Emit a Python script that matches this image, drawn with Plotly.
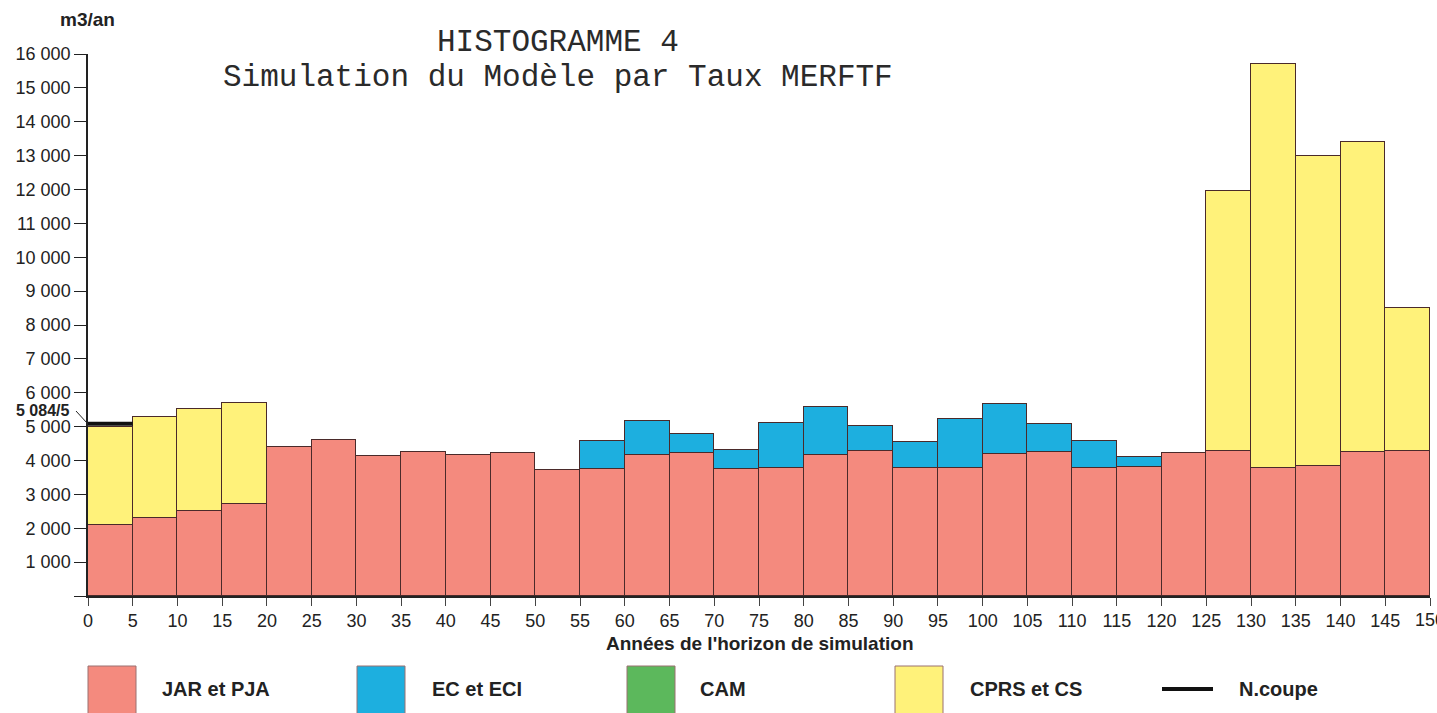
import plotly.graph_objects as go

# Five-year periods of the simulation horizon (start year of each period)
periods = list(range(0, 150, 5))

# Harvest volume per treatment, m3/an
jar_pja = [2100, 2300, 2500, 2710, 4400, 4600, 4130, 4250, 4160, 4220,
           3720, 3750, 4160, 4220, 3750, 3780, 4160, 4280, 3780, 3780,
           4190, 4250, 3780, 3800, 4220, 4280, 3780, 3830, 4250, 4280]
ec_eci = [0, 0, 0, 0, 0, 0, 0, 0, 0, 0,
          0, 820, 1000, 560, 560, 1320, 1420, 740, 760, 1440,
          1470, 820, 790, 300, 0, 0, 0, 0, 0, 0]
cam = [0] * 30
cprs_cs = [2900, 2980, 3020, 2980, 0, 0, 0, 0, 0, 0,
           0, 0, 0, 0, 0, 0, 0, 0, 0, 0,
           0, 0, 0, 0, 0, 7670, 11920, 9170, 9160, 4220]

# Reference harvest level (N.coupe) over the first period
n_coupe_value = 5084
n_coupe_label = "5 084/5"

y_ticks = list(range(0, 17000, 1000))
y_tick_text = ["" if v == 0 else f"{v // 1000} 000" for v in y_ticks]
x_ticks = list(range(0, 155, 5))

legend_items = ["JAR et PJA", "EC et ECI", "CAM", "CPRS et CS"]

COLORS = {
    "JAR et PJA": "#F48A7E",
    "EC et ECI": "#1DAFDF",
    "CAM": "#5CB85C",
    "CPRS et CS": "#FFF27A",
}
EDGE = "#4a2a2a"

W, H = 1437, 713
L, R, T, B = 88, 7, 54, 117
PW, PH = W - L - R, H - T - B


def px_x(px):
    return (px - L) / PW


def px_y(py):
    return (H - B - py) / PH


centers = [p + 2.5 for p in periods]
fig = go.Figure()
for name, vals in [("JAR et PJA", jar_pja), ("EC et ECI", ec_eci),
                   ("CAM", cam), ("CPRS et CS", cprs_cs)]:
    fig.add_trace(go.Bar(
        x=centers, y=vals, width=[5] * len(periods), name=name,
        marker=dict(color=COLORS[name],
                    line=dict(color=EDGE, width=0 if name == "CAM" else 1)),
        showlegend=False,
    ))

fig.add_trace(go.Scatter(
    x=[0, 5], y=[n_coupe_value, n_coupe_value], mode="lines",
    line=dict(color="#111111", width=4), showlegend=False,
))

font_sans = "Liberation Sans, Arial, sans-serif"
annotations = [
    dict(text="HISTOGRAMME 4", x=px_x(558), y=px_y(42)),
    dict(text="Simulation du Modèle par Taux MERFTF", x=px_x(558), y=px_y(78)),
]
for a in annotations:
    a.update(xref="paper", yref="paper", showarrow=False, xanchor="center",
             yanchor="middle", font=dict(family="Liberation Mono, Courier New, monospace",
                                         size=31, color="#2a2a2a"))
annotations += [
    dict(text="<b>m3/an</b>", x=px_x(87), y=px_y(19), xref="paper", yref="paper",
         showarrow=False, xanchor="center", yanchor="middle",
         font=dict(family=font_sans, size=19, color="#222222")),
    dict(text=f"<b>{n_coupe_label}</b>", x=px_x(71), y=px_y(410), xref="paper",
         yref="paper", showarrow=False, xanchor="right", yanchor="middle",
         font=dict(family=font_sans, size=16, color="#222222")),
    dict(text="<b>Années de l'horizon de simulation</b>", x=px_x(760), y=px_y(643),
         xref="paper", yref="paper", showarrow=False, xanchor="center",
         yanchor="middle", font=dict(family=font_sans, size=19, color="#222222")),
    # last tick label, running off the right edge of the page
    dict(text="150", x=150, y=px_y(620), xref="x", yref="paper",
         showarrow=False, xanchor="center", yanchor="middle",
         font=dict(family=font_sans, size=18, color="#222222")),
]

shapes = [
    dict(type="line", xref="paper", yref="paper", x0=px_x(76), y0=px_y(411),
         x1=px_x(87), y1=px_y(423), line=dict(color="#222222", width=1)),
]

# Bottom legend: swatches and labels
swatch_left = [88, 357, 627, 895]
label_left = [160, 430, 698, 968]
for name, sx, lx in zip(legend_items, swatch_left, label_left):
    shapes.append(dict(type="rect", xref="paper", yref="paper",
                       x0=px_x(sx), x1=px_x(sx + 48), y0=px_y(666), y1=px_y(724),
                       fillcolor=COLORS[name], line=dict(color="#9a7070", width=1)))
    annotations.append(dict(text=f"<b>{name}</b>", x=px_x(lx), y=px_y(689),
                            xref="paper", yref="paper", showarrow=False,
                            xanchor="left", yanchor="middle",
                            font=dict(family=font_sans, size=20, color="#222222")))
shapes.append(dict(type="line", xref="paper", yref="paper", x0=px_x(1162),
                   x1=px_x(1213), y0=px_y(689), y1=px_y(689),
                   line=dict(color="#111111", width=4)))
annotations.append(dict(text="<b>N.coupe</b>", x=px_x(1237), y=px_y(689),
                        xref="paper", yref="paper", showarrow=False,
                        xanchor="left", yanchor="middle",
                        font=dict(family=font_sans, size=20, color="#222222")))

fig.update_layout(
    width=W, height=H,
    margin=dict(l=L, r=R, t=T, b=B, pad=0),
    barmode="stack", bargap=0,
    plot_bgcolor="white", paper_bgcolor="white",
    annotations=annotations, shapes=shapes,
    font=dict(family=font_sans, size=18, color="#222222"),
)
fig.update_xaxes(
    range=[0, 150], tickvals=x_ticks, ticktext=[str(v) for v in x_ticks],
    showline=True, linecolor="#222222", linewidth=1.5, ticks="outside",
    ticklen=8, tickcolor="#444444", showgrid=False, zeroline=False,
    tickfont=dict(family=font_sans, size=18, color="#222222"),
)
fig.update_yaxes(
    range=[0, 16000], tickvals=y_ticks, ticktext=y_tick_text,
    showline=True, linecolor="#222222", linewidth=1.5, ticks="outside",
    ticklen=12, tickcolor="#222222", showgrid=False, zeroline=False,
    tickfont=dict(family=font_sans, size=18, color="#222222"),
)

fig.write_html("out.html")
